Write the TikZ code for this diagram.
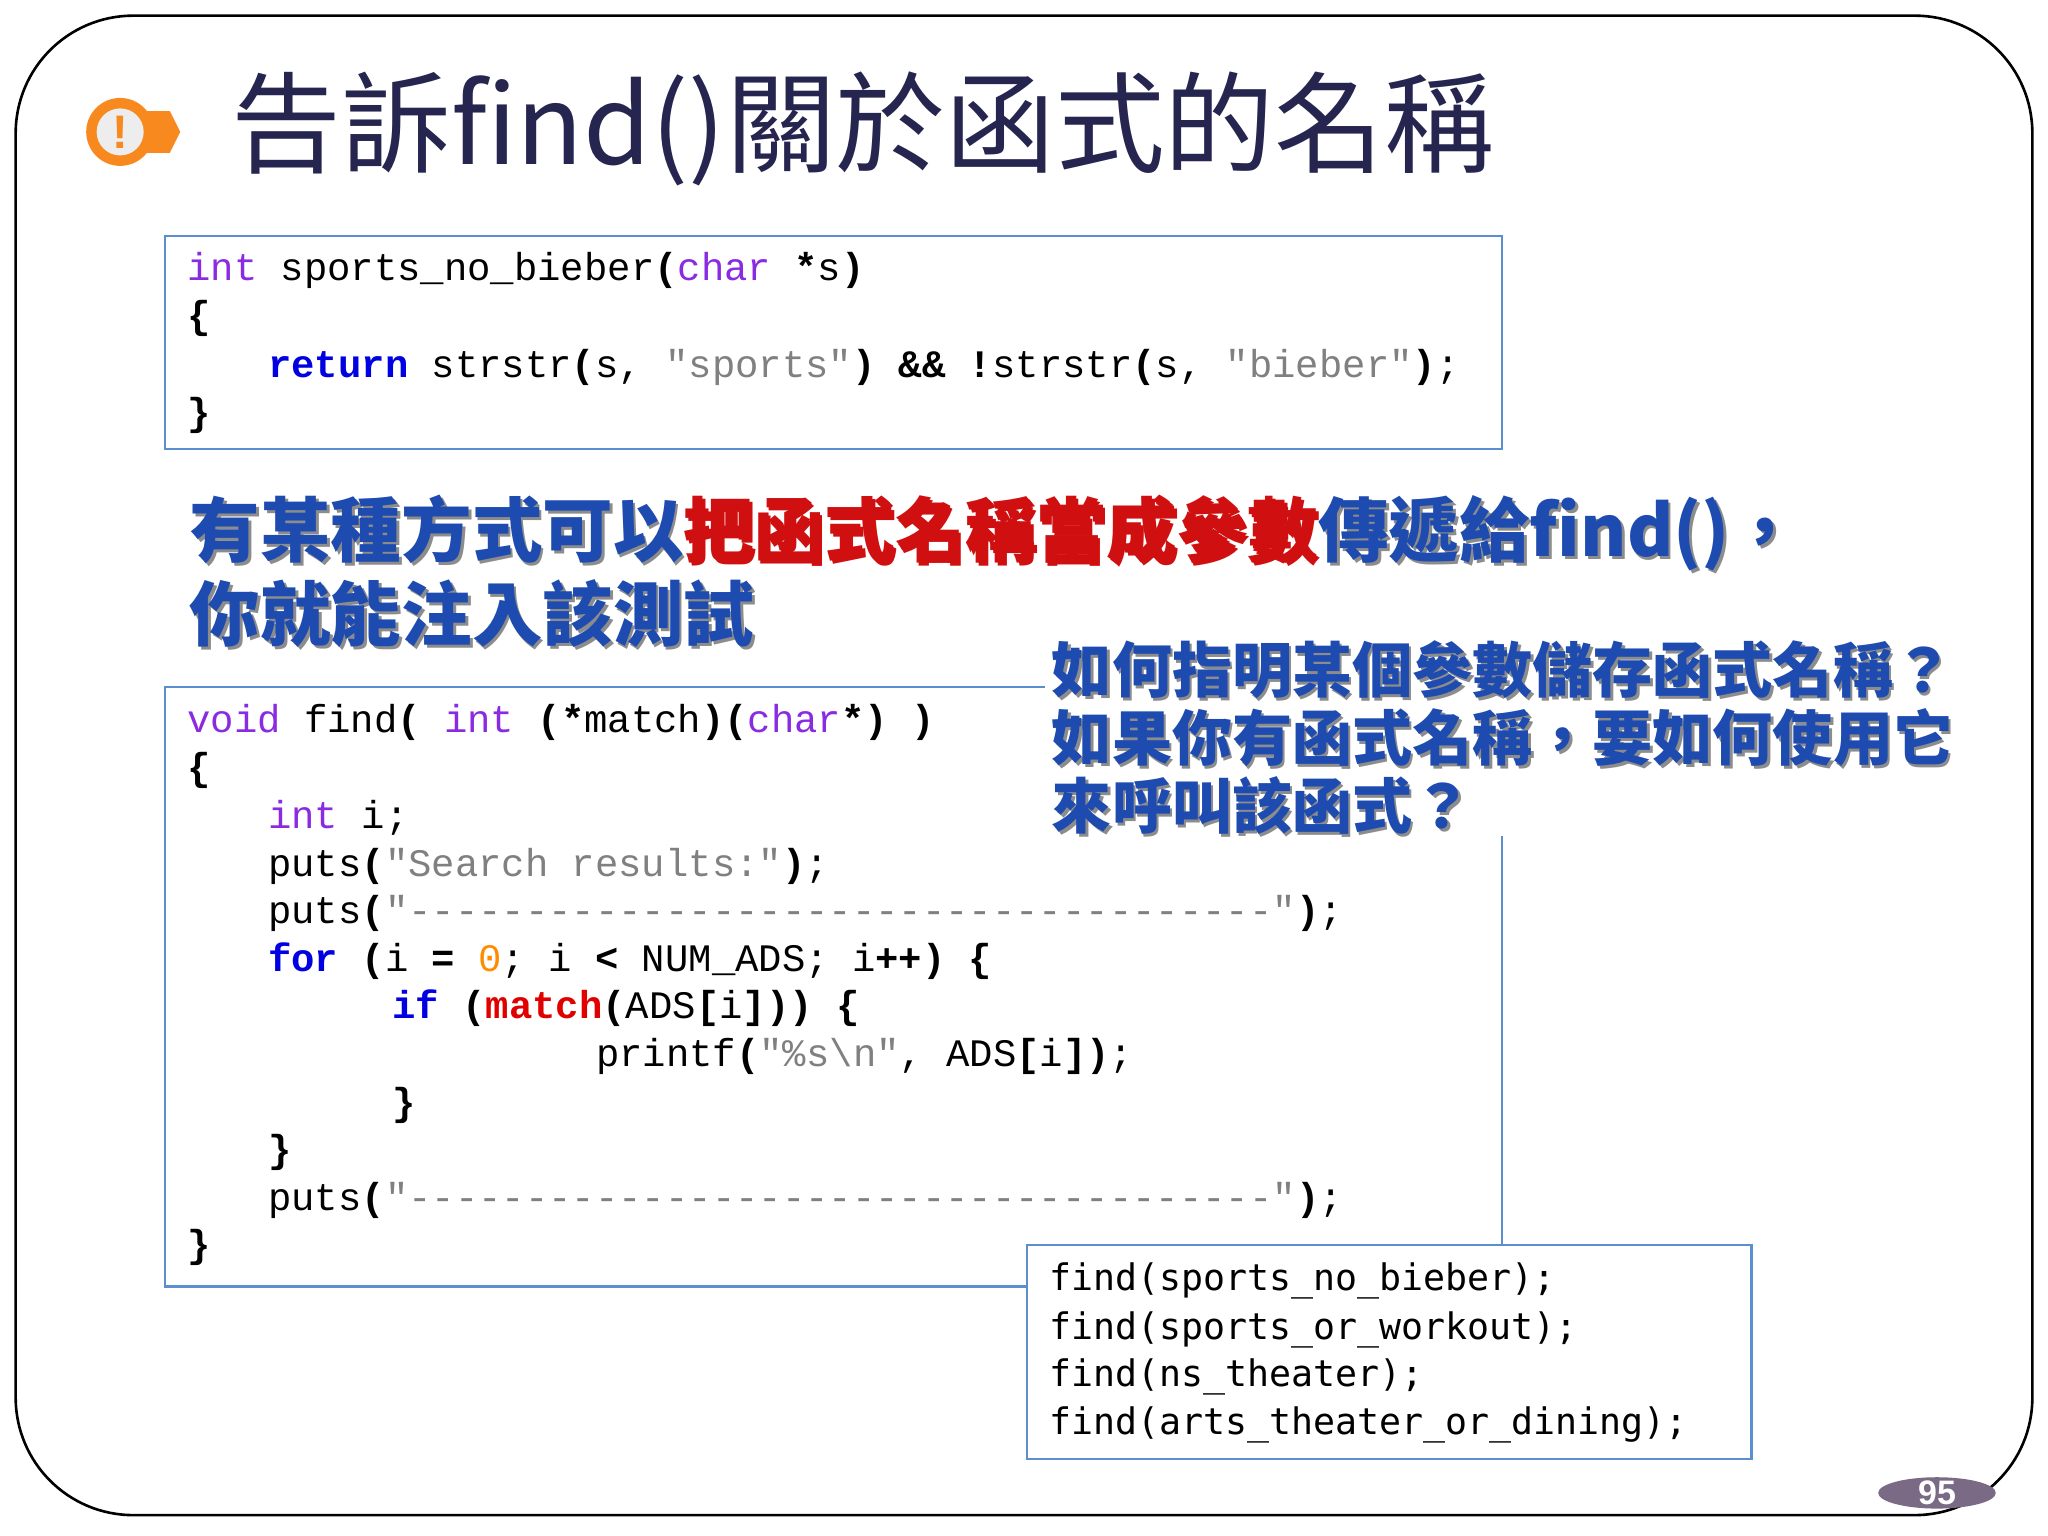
\documentclass[tikz,border=0pt]{standalone}
\usepackage{fontspec}
\setmainfont{Liberation Sans}
\newfontfamily\cjk{Noto Sans CJK TC}
\newfontfamily\codef{Liberation Mono}
\newfontfamily\consf{DejaVu Sans Mono}
\definecolor{kw}{HTML}{8A2BE2}
\definecolor{kb}{HTML}{0000E0}
\definecolor{st}{HTML}{808080}
\definecolor{rd}{HTML}{E00000}
\definecolor{og}{HTML}{FF8C00}
\definecolor{bx}{HTML}{5B8FD0}
\definecolor{ttl}{HTML}{25254F}
\definecolor{hb}{HTML}{1E4BB0}
\definecolor{hr}{HTML}{D01010}
\definecolor{pg}{HTML}{7A6A85}
\definecolor{orn}{HTML}{F7891F}
\newcommand{\K}[1]{\textcolor{kw}{#1}}
\newcommand{\B}[1]{\textcolor{kb}{\bfseries #1}}
\newcommand{\St}[1]{\textcolor{st}{#1}}
\newcommand{\Pb}[1]{\textbf{#1}}
\tikzset{
 code/.style={anchor=west,inner sep=0pt,font=\codef\fontsize{14.9}{17}\selectfont},
 cons/.style={anchor=west,inner sep=0pt,font=\consf\fontsize{14}{17}\selectfont},
 codebox/.style={draw=bx,line width=0.8pt,fill=white},
 head/.style={anchor=west,inner sep=0pt,font=\cjk\bfseries\fontsize{27}{30}\selectfont},
 head2/.style={anchor=west,inner sep=0pt,font=\cjk\bfseries\fontsize{23}{26}\selectfont},
}
\newcommand{\shadowtext}[4]{% style, pos, name, text
 \node[#1,text=black!45] at ($(#2)+(2,2)$) {#4};
 \node[#1] (#3) at (#2) {#4};}
\usetikzlibrary{calc}
\begin{document}
\begin{tikzpicture}[x=0.5pt,y=-0.5pt]
\useasboundingbox (0,0) rectangle (1568,1176);
\fill[white] (0,0) rectangle (1568,1176);
\draw[line width=1pt,rounded corners=45] (12,12) rectangle (1556,1160);
% icon
\fill[orn] (92,101) circle (26);
\fill[orn] (100,85) -- (130,85) -- (138,101) -- (130,117) -- (100,117) -- cycle;
\fill[white!93!black] (92,101) circle (18);
\node[text=orn,font=\bfseries\fontsize{18}{18}\selectfont,inner sep=0] (ic) at (92,101) {!};
% title
\node[anchor=west,inner sep=0,text=ttl,font=\cjk\fontsize{42}{46}\selectfont] (title) at (177,99) {告訴find()關於函式的名稱};
% box 1
\draw[codebox] (126,181) rectangle (1150,344);
\node[code] (a1) at (143,207) {\K{int} sports\_no\_bieber\Pb{(}\K{char} \Pb{*}s\Pb{)}};
\node[code] (a2) at (143,244) {\Pb{\{}};
\node[code] (a3) at (205,281) {\B{return} strstr\Pb{(}s, \St{"sports"}\Pb{)} \Pb{\&\&} \Pb{!}strstr\Pb{(}s, \St{"bieber"}\Pb{)};};
\node[code] (a4) at (143,318) {\Pb{\}}};
% heading
\shadowtext{head,text=hb}{145,408}{h1}{有某種方式可以\textcolor{hr}{把函式名稱當成參數}傳遞給find()，}
\shadowtext{head,text=hb}{145,470}{h2}{你就能注入該測試}
% box 2
\draw[codebox] (126,526) rectangle (1150,985);
\node[code] (b1) at (143,553) {\K{void} find\Pb{(} \K{int} \Pb{(*}match\Pb{)}\Pb{(}\K{char}\Pb{*)} \Pb{)}};
\node[code] (b2) at (143,590) {\Pb{\{}};
\node[code] (b3) at (205,626) {\K{int} i;};
\node[code] (b4) at (205,663) {puts\Pb{(}\St{"Search results:"}\Pb{)};};
\node[code] (b5) at (205,699) {puts\Pb{(}\St{"-------------------------------------"}\Pb{)};};
\node[code] (b6) at (205,736) {\B{for} \Pb{(}i \Pb{=} \textcolor{og}{0}; i \Pb{<} NUM\_ADS; i\Pb{++)} \Pb{\{}};
\node[code] (b7) at (300,772) {\B{if} \Pb{(}\textcolor{rd}{\bfseries match}\Pb{(}ADS\Pb{[}i\Pb{]))} \Pb{\{}};
\node[code] (b8) at (456,809) {printf\Pb{(}\St{"\%s\textbackslash n"}, ADS\Pb{[}i\Pb{])};};
\node[code] (b9) at (300,846) {\Pb{\}}};
\node[code] (b10) at (205,882) {\Pb{\}}};
\node[code] (b11) at (205,919) {puts\Pb{(}\St{"-------------------------------------"}\Pb{)};};
\node[code] (b12) at (143,955) {\Pb{\}}};
% overlay question
\fill[white] (800,488) rectangle (1512,640);
\shadowtext{head2,text=hb}{805,513}{q1}{如何指明某個參數儲存函式名稱？}
\shadowtext{head2,text=hb}{805,565}{q2}{如果你有函式名稱，要如何使用它}
\shadowtext{head2,text=hb}{805,617}{q3}{來呼叫該函式？}
% box 3
\draw[codebox] (786,953) rectangle (1341,1117);
\node[cons] (c1) at (803,981) {find(sports\_no\_bieber);};
\node[cons] (c2) at (803,1018) {find(sports\_or\_workout);};
\node[cons] (c3) at (803,1054) {find(ns\_theater);};
\node[cons] (c4) at (803,1091) {find(arts\_theater\_or\_dining);};
% page number
\fill[pg] (1483,1143) ellipse (45 and 12);
\node[text=white,font=\bfseries\fontsize{13}{13}\selectfont,inner sep=0] (pn) at (1483,1143) {95};
\end{tikzpicture}
\end{document}
